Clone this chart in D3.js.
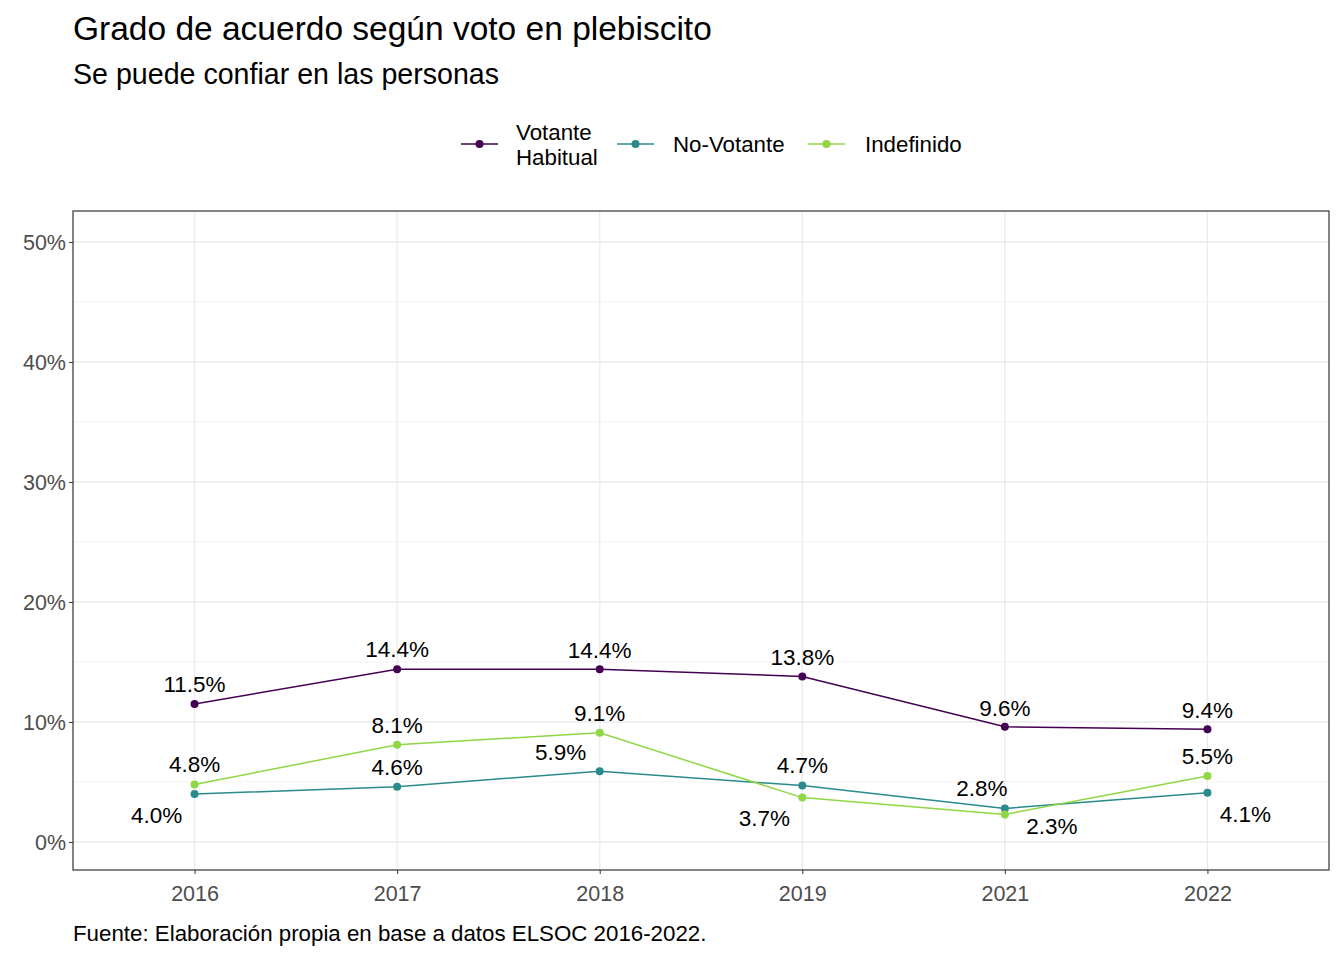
<!DOCTYPE html>
<html><head><meta charset="utf-8">
<script src="https://cdn.jsdelivr.net/npm/d3@7"></script>
<style>body{margin:0;background:#fff}text{font-family:Arial,"Liberation Sans",sans-serif}</style>
</head><body><svg id="c" width="1344" height="960"></svg>
<script>
const years = ["2016","2017","2018","2019","2021","2022"];
const seriesNames = ["Votante Habitual","No-Votante","Indefinido"];
const votante = [11.5,14.4,14.4,13.8,9.6,9.4];
const noVotante = [4.0,4.6,5.9,4.7,2.8,4.1];
const indefinido = [4.8,8.1,9.1,3.7,2.3,5.5];
const colors = ["#440154","#2A8A8C","#8FD744"];
const yTicks = [0,10,20,30,40,50];
// label nudges (dx, dy) per series
const nudgeV = [[0,-20],[0,-20],[0,-19],[0,-19],[0,-19],[0,-19]];
const nudgeN = [[-38,21],[0,-20],[-39,-19],[0,-20],[-23,-20],[38,21]];
const nudgeI = [[0,-20],[0,-20],[0,-20],[-38,21],[47,12],[0,-20]];

const svg = d3.select("#c");
const L=73,R=1329,T=211,B=870;
const x = d3.scalePoint().domain(years).range([L,R]).padding(0.6);
const y = d3.scaleLinear().domain([-2.333,52.583]).range([B,T]);
const g = svg.append("g");
d3.range(5,55,10).forEach(v=>g.append("line").attr("x1",L).attr("x2",R).attr("y1",y(v)).attr("y2",y(v)).attr("stroke","#f2f2f2").attr("stroke-width",0.8));
yTicks.forEach(v=>g.append("line").attr("x1",L).attr("x2",R).attr("y1",y(v)).attr("y2",y(v)).attr("stroke","#ebebeb").attr("stroke-width",1.3));
years.forEach(v=>g.append("line").attr("y1",T).attr("y2",B).attr("x1",x(v)).attr("x2",x(v)).attr("stroke","#ebebeb").attr("stroke-width",1.3));
g.append("rect").attr("x",L).attr("y",T).attr("width",R-L).attr("height",B-T).attr("fill","none").attr("stroke","#333").attr("stroke-width",1.2);
const ya = svg.append("g").attr("transform",`translate(${L},0)`).call(d3.axisLeft(y).tickValues(yTicks).tickFormat(d=>d+"%").tickSize(4).tickPadding(3));
const xa = svg.append("g").attr("transform",`translate(0,${B})`).call(d3.axisBottom(x).tickSize(4).tickPadding(12));
[ya,xa].forEach(a=>{a.select(".domain").remove();a.selectAll("line").attr("stroke","#333");a.selectAll("text").attr("fill","#4d4d4d").style("font-size","21.5px");});
ya.selectAll("text").attr("dy","0.35em");
const data=[votante,noVotante,indefinido], nudges=[nudgeV,nudgeN,nudgeI];
const line=d3.line().x((d,i)=>x(years[i])).y(d=>y(d));
data.forEach((s,k)=>{
  svg.append("path").attr("d",line(s)).attr("fill","none").attr("stroke",colors[k]).attr("stroke-width",1.5);
  s.forEach((v,i)=>{
    svg.append("circle").attr("cx",x(years[i])).attr("cy",y(v)).attr("r",4).attr("fill",colors[k]);
    svg.append("text").attr("x",x(years[i])+nudges[k][i][0]).attr("y",y(v)+nudges[k][i][1]).attr("dy","0.35em").attr("text-anchor","middle").style("font-size","22.5px").attr("fill","#000").text(v.toFixed(1)+"%");
  });
});
const leg=[{x:461,tx:516},{x:617,tx:673},{x:808,tx:865}];
leg.forEach((l,k)=>{
  svg.append("line").attr("x1",l.x).attr("x2",l.x+37).attr("y1",144).attr("y2",144).attr("stroke",colors[k]).attr("stroke-width",1.5);
  svg.append("circle").attr("cx",l.x+18.5).attr("cy",144).attr("r",4).attr("fill",colors[k]);
  const t=svg.append("text").attr("x",l.tx).style("font-size","22.3px");
  if(k===0){t.append("tspan").attr("x",l.tx).attr("y",140).text("Votante");t.append("tspan").attr("x",l.tx).attr("y",165).text("Habitual");}
  else t.attr("y",152).text(seriesNames[k]);
});
svg.append("text").attr("x",73).attr("y",40).style("font-size","33.5px").text("Grado de acuerdo según voto en plebiscito");
svg.append("text").attr("x",73).attr("y",84).style("font-size","28.6px").text("Se puede confiar en las personas");
svg.append("text").attr("x",73).attr("y",941).style("font-size","22.3px").text("Fuente: Elaboración propia en base a datos ELSOC 2016-2022.");
</script></body></html>
